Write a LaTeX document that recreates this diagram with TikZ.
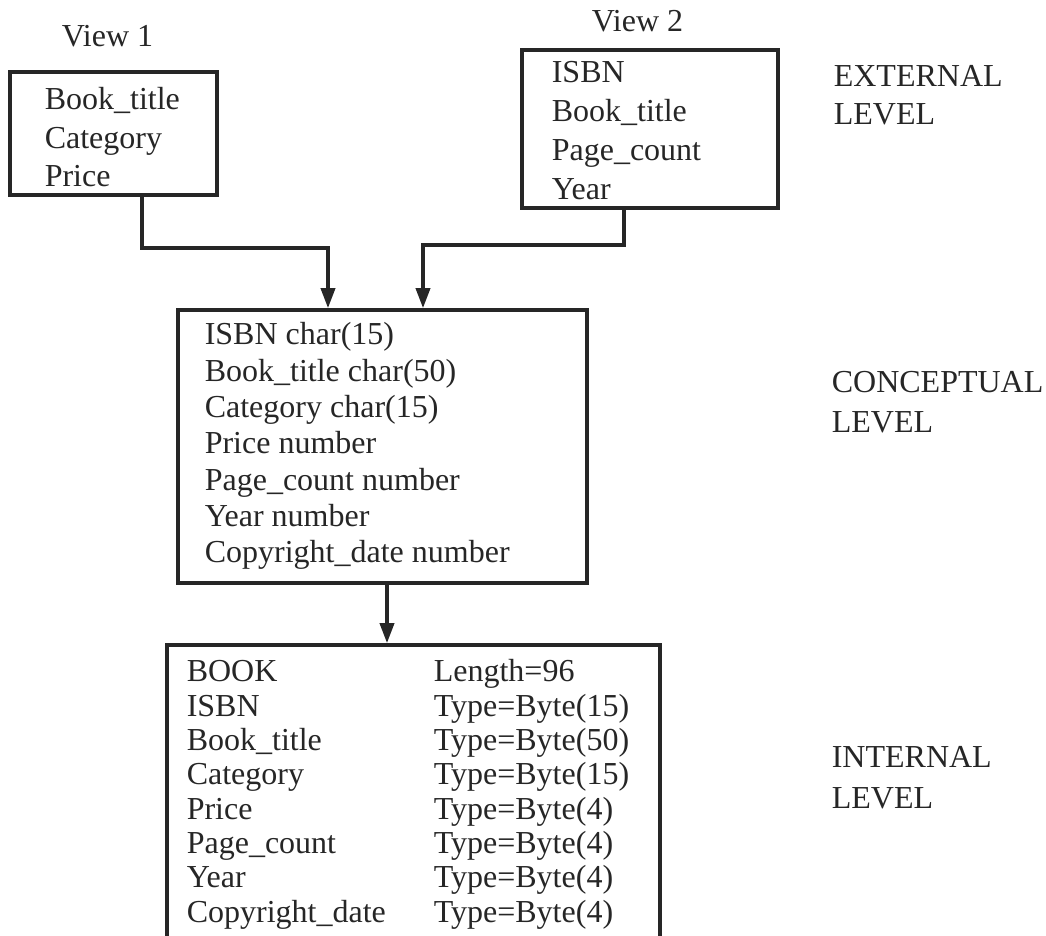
\documentclass[tikz,border=0pt]{standalone}
\usepackage{fontspec}
\setmainfont{Liberation Serif}
\usetikzlibrary{arrows.meta,fit}
\begin{document}
\begin{tikzpicture}[x=0.5pt, y=-0.5pt,
                    line width=1.8pt,
                    every node/.style={font=\fontsize{16}{19}\selectfont, inner sep=0pt, text=black!85},
                    txt/.style={anchor=base west},
                    box/.style={draw=black!85, fit={#1}},
                    link/.style={draw=black!85, -{Triangle[length=10pt, width=7pt]}}]
  \useasboundingbox (0,0) rectangle (1046,936);
  \clip (0,0) rectangle (1046,936);
  % boxes
  \node[box={(10,72) (217,195)}] (view1) {};
  \node[box={(522,50) (778,208)}] (view2) {};
  \node[box={(178,310) (587,583)}] (concept) {};
  \node[box={(167,645) (660,960)}] (internal) {};
  % external level
  \node[txt] (v1label) at (60,47) {View 1};
  \node[txt] (v2label) at (590,32) {View 2};
  \foreach \t [count=\i from 0] in {Book\_title, Category, Price}
    \node[txt] (v1\i) at (43,{110+38.5*\i}) {\t};
  \foreach \t [count=\i from 0] in {ISBN, Book\_title, Page\_count, Year}
    \node[txt] (v2\i) at (550,{83+39*\i}) {\t};
  % conceptual level
  \foreach \t [count=\i from 0] in {ISBN char(15), Book\_title char(50), Category char(15),
      Price number, Page\_count number, Year number, Copyright\_date number}
    \node[txt] (c\i) at (203,{345+36.3*\i}) {\t};
  % internal level
  \foreach \a/\b [count=\i from 0] in {BOOK/Length=96, ISBN/Type=Byte(15),
      Book\_title/Type=Byte(50), Category/Type=Byte(15), Price/Type=Byte(4),
      Page\_count/Type=Byte(4), Year/Type=Byte(4), Copyright\_date/Type=Byte(4)}
  {
    \node[txt] (ia\i) at (185,{682+34.3*\i}) {\a};
    \node[txt] (ib\i) at (432,{682+34.3*\i}) {\b};
  }
  % level names
  \node[txt] (ext) at (832,87) {EXTERNAL};
  \node[txt] (extlvl) at (832,125) {LEVEL};
  \node[txt] (con) at (830,393) {CONCEPTUAL};
  \node[txt] (conlvl) at (830,433) {LEVEL};
  \node[txt] (int) at (830,768) {INTERNAL};
  \node[txt] (intlvl) at (830,808) {LEVEL};
  % connectors
  \coordinate (j1) at (328,248);
  \coordinate (j2) at (423,245);
  \coordinate (cdown) at ([xshift=2.25pt]concept.south);
  \draw[link] ([xshift=14.25pt]view1.south) |- (j1) -- (j1 |- concept.north);
  \draw[link] ([xshift=-13pt]view2.south) |- (j2) -- (j2 |- concept.north);
  \draw[link] (cdown) -- (cdown |- internal.north);
\end{tikzpicture}
\end{document}
